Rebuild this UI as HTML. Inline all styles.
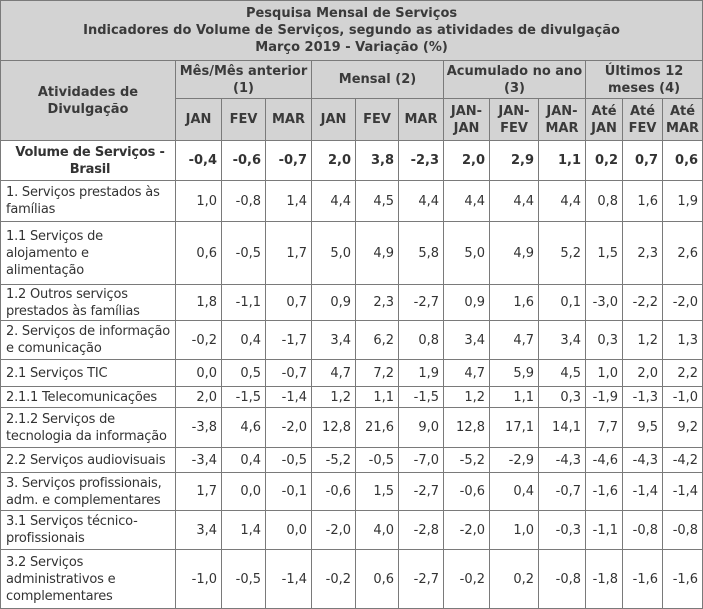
<!DOCTYPE html>
<html><head><meta charset="utf-8">
<style>
html,body{margin:0;padding:0;background:#fff;}
body{width:703px;height:609px;overflow:hidden;}
table{position:absolute;left:0;top:0;border-collapse:collapse;table-layout:fixed;width:702px;
font-family:"DejaVu Sans","Liberation Sans",sans-serif;font-size:13px;color:#333;}
td,th{border:1px solid #7a7a7a;padding:0 4px;overflow:hidden;line-height:17px;}
td.lab{padding:0 1px 0 5px;white-space:nowrap;letter-spacing:-0.2px;}
th{background:#d3d3d3;font-weight:bold;color:#3a3a3a;text-align:center;padding:0 2px;}
td{text-align:right;vertical-align:middle;}
td.lab{text-align:left;}
tr.bold td{font-weight:bold;font-size:13px;}
tr.bold td.lab{text-align:center;}
</style></head><body>
<table>
<colgroup>
<col style="width:175px"><col style="width:46px"><col style="width:44px"><col style="width:46px">
<col style="width:44px"><col style="width:43px"><col style="width:45px"><col style="width:46px">
<col style="width:49px"><col style="width:47px"><col style="width:37px"><col style="width:40px"><col style="width:40px">
</colgroup>
<thead>
<tr style="height:60px"><th colspan="13">Pesquisa Mensal de Serviços<br>Indicadores do Volume de Serviços, segundo as atividades de divulgação<br>Março 2019 - Variação (%)</th></tr>
<tr style="height:38px">
<th rowspan="2">Atividades de<br>Divulgação</th>
<th colspan="3">Mês/Mês anterior<br>(1)</th>
<th colspan="3">Mensal (2)</th>
<th colspan="3">Acumulado no ano<br>(3)</th>
<th colspan="3">Últimos 12<br>meses (4)</th>
</tr>
<tr style="height:42px" id="subhdr"></tr>
</thead>
<tbody id="tb"></tbody>
</table>
<script>
const subHeaders=["JAN","FEV","MAR","JAN","FEV","MAR","JAN-<br>JAN","JAN-<br>FEV","JAN-<br>MAR","Até<br>JAN","Até<br>FEV","Até<br>MAR"];
const labels=["Volume de Serviços -<br>Brasil","1. Serviços prestados às<br>famílias","1.1 Serviços de<br>alojamento e<br>alimentação","1.2 Outros serviços<br>prestados às famílias","2. Serviços de informação<br>e comunicação","2.1 Serviços TIC","2.1.1 Telecomunicações","2.1.2 Serviços de<br>tecnologia da informação","2.2 Serviços audiovisuais","3. Serviços profissionais,<br>adm. e complementares","3.1 Serviços técnico-<br>profissionais","3.2 Serviços<br>administrativos e<br>complementares"];
const rowValues=[
["-0,4","-0,6","-0,7","2,0","3,8","-2,3","2,0","2,9","1,1","0,2","0,7","0,6"],
["1,0","-0,8","1,4","4,4","4,5","4,4","4,4","4,4","4,4","0,8","1,6","1,9"],
["0,6","-0,5","1,7","5,0","4,9","5,8","5,0","4,9","5,2","1,5","2,3","2,6"],
["1,8","-1,1","0,7","0,9","2,3","-2,7","0,9","1,6","0,1","-3,0","-2,2","-2,0"],
["-0,2","0,4","-1,7","3,4","6,2","0,8","3,4","4,7","3,4","0,3","1,2","1,3"],
["0,0","0,5","-0,7","4,7","7,2","1,9","4,7","5,9","4,5","1,0","2,0","2,2"],
["2,0","-1,5","-1,4","1,2","1,1","-1,5","1,2","1,1","0,3","-1,9","-1,3","-1,0"],
["-3,8","4,6","-2,0","12,8","21,6","9,0","12,8","17,1","14,1","7,7","9,5","9,2"],
["-3,4","0,4","-0,5","-5,2","-0,5","-7,0","-5,2","-2,9","-4,3","-4,6","-4,3","-4,2"],
["1,7","0,0","-0,1","-0,6","1,5","-2,7","-0,6","0,4","-0,7","-1,6","-1,4","-1,4"],
["3,4","1,4","0,0","-2,0","4,0","-2,8","-2,0","1,0","-0,3","-1,1","-0,8","-0,8"],
["-1,0","-0,5","-1,4","-0,2","0,6","-2,7","-0,2","0,2","-0,8","-1,8","-1,6","-1,6"]];
const rowHeights=[40,41,63,36,39,27,21,40,25,38,39,59];
const sh=document.getElementById('subhdr');
subHeaders.forEach(h=>{const th=document.createElement('th');th.innerHTML=h;


sh.appendChild(th);});
const tb=document.getElementById('tb');
labels.forEach((l,i)=>{const tr=document.createElement('tr');tr.style.height=rowHeights[i]+'px';
if(i===0)tr.className='bold';


const td=document.createElement('td');td.className='lab';td.innerHTML=l;


tr.appendChild(td);
rowValues[i].forEach(v=>{const c=document.createElement('td');c.textContent=v;


tr.appendChild(c);});
tb.appendChild(tr);});
</script>
</body></html>
